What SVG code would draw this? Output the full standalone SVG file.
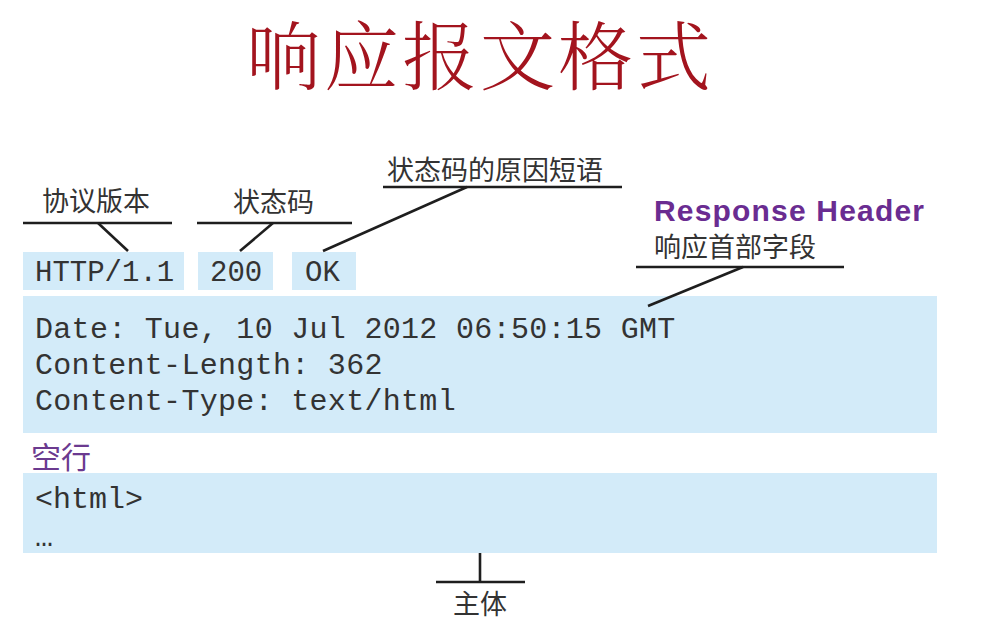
<svg xmlns="http://www.w3.org/2000/svg" width="994" height="636" viewBox="0 0 994 636">
<style>
.box{fill:#d3ebf9}
.mono{font-family:"Liberation Mono","DejaVu Sans Mono",monospace;font-size:30px;fill:#333}
.row1{font-size:29px}
.hdr{letter-spacing:0.3px}
.lbl{font-family:"Noto Sans CJK SC","Noto Sans",sans-serif;font-size:27px;fill:#333}
.ln{stroke:#1e1e1e;stroke-width:2.6;fill:none}
</style>
<rect width="994" height="636" fill="#ffffff"/>
<g id="title">
<text x="480" y="84" text-anchor="middle" font-family="Noto Serif CJK SC,Noto Sans CJK SC,serif" font-size="75" font-weight="300" letter-spacing="3" fill="#a3141e">响应报文格式</text>
</g>
<g id="version">
<rect class="box" x="23" y="252" width="161" height="38"/>
<text class="mono row1" x="35" y="281">HTTP/1.1</text>
</g>
<g id="status">
<rect class="box" x="198" y="252" width="75" height="38"/>
<text class="mono row1" x="210" y="281">200</text>
</g>
<g id="reason">
<rect class="box" x="292" y="252" width="64" height="38"/>
<text class="mono row1" x="305" y="281">OK</text>
</g>
<g id="header">
<rect class="box" x="23" y="296" width="914" height="137"/>
<text class="mono hdr" x="35" y="338">Date: Tue, 10 Jul 2012 06:50:15 GMT</text>
<text class="mono hdr" x="35" y="374">Content-Length: 362</text>
<text class="mono hdr" x="35" y="410">Content-Type: text/html</text>
</g>
<g id="blank">
<text x="31" y="468" font-family="Noto Sans CJK SC,Noto Sans,sans-serif" font-size="30" fill="#6b3a8f">空行</text>
</g>
<g id="body">
<rect class="box" x="23" y="473" width="914" height="80"/>
<text class="mono" x="35" y="508">&lt;html&gt;</text>
<text class="mono" x="35" y="546">…</text>
</g>
<g id="labels">
<text class="lbl" x="42" y="211">协议版本</text>
<text class="lbl" x="233" y="212">状态码</text>
<text class="lbl" x="387" y="180">状态码的原因短语</text>
<text x="654" y="221" font-family="Liberation Sans,Arial,sans-serif" font-size="30" font-weight="bold" fill="#6a2c91" textLength="270" lengthAdjust="spacing">Response Header</text>
<text class="lbl" x="654" y="257">响应首部字段</text>
<text class="lbl" x="480" y="614" text-anchor="middle">主体</text>
</g>
<g id="connectors">
<line class="ln" x1="23" y1="223" x2="172" y2="223"/>
<line class="ln" x1="98" y1="223" x2="128" y2="251"/>
<line class="ln" x1="197" y1="223" x2="352" y2="223"/>
<line class="ln" x1="273" y1="223" x2="240" y2="251"/>
<line class="ln" x1="383" y1="187" x2="622" y2="187"/>
<line class="ln" x1="467" y1="187" x2="323" y2="251"/>
<line class="ln" x1="636" y1="267" x2="844" y2="267"/>
<line class="ln" x1="743" y1="267" x2="648" y2="306"/>
<line class="ln" x1="480" y1="553" x2="480" y2="582"/>
<line class="ln" x1="436" y1="582" x2="525" y2="582"/>
</g>
</svg>
